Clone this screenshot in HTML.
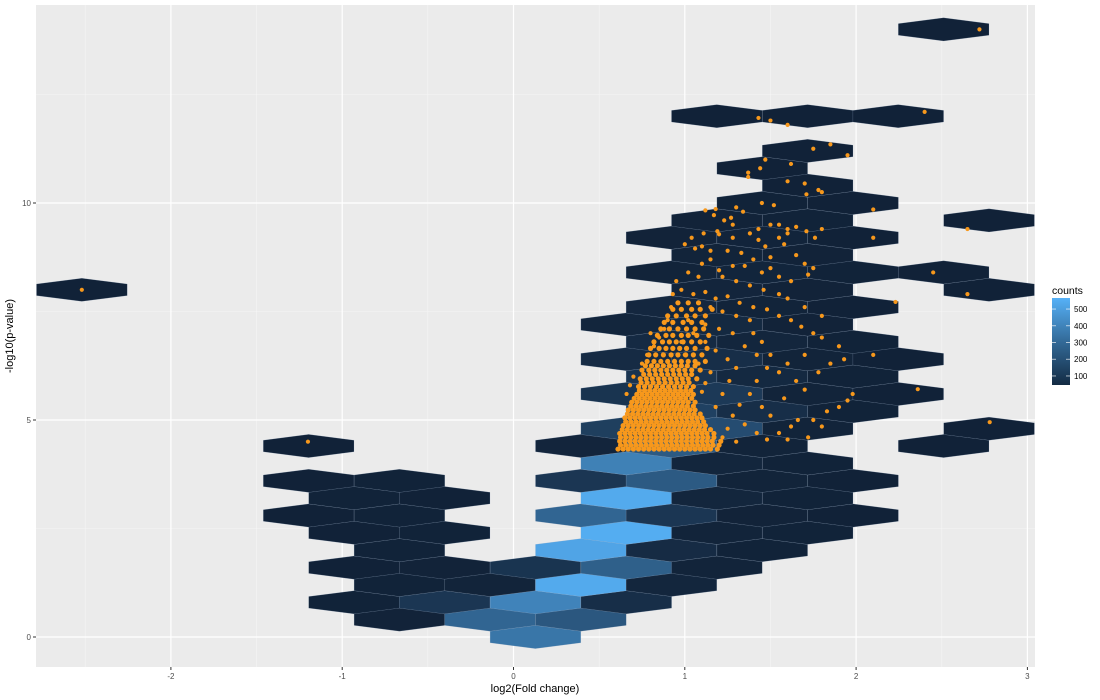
<!DOCTYPE html>
<html><head><meta charset="utf-8"><style>
html,body{margin:0;padding:0;background:#fff;}
svg{display:block;font-family:"Liberation Sans",Arial,sans-serif;}
</style></head><body>
<svg id="chart" width="1100" height="700" viewBox="0 0 1100 700" xmlns="http://www.w3.org/2000/svg">
<rect x="0" y="0" width="1100" height="700" fill="#ffffff"/>
<rect x="36" y="5" width="999" height="662" fill="#EBEBEB"/>
<g id="grid"></g>
<g id="hexes"></g>
<g id="points"></g>
<g id="axes"></g>
<text x="535" y="692" font-size="11" text-anchor="middle" fill="#000">log2(Fold change)</text>
<text transform="translate(13,336) rotate(-90)" font-size="11" text-anchor="middle" fill="#000">-log10(p-value)</text>
<g>
  <text x="1052" y="294" font-size="10.5" fill="#000">counts</text>
  <defs><linearGradient id="cbar" x1="0" y1="0" x2="0" y2="1">
    <stop offset="0" stop-color="#56B1F7"/><stop offset="0.5" stop-color="#336A98"/><stop offset="1" stop-color="#132B43"/>
  </linearGradient></defs>
  <rect x="1052" y="298" width="18" height="87" fill="url(#cbar)"/>
  <g id="legend-ticks"></g>
</g>
</svg>
<script>
// ---- data ----
const xTicks = [-2, -1, 0, 1, 2, 3];
const yTicks = [0, 5, 10];
const xMinor = [-2.5, -1.5, -0.5, 0.5, 1.5, 2.5];
const yMinor = [2.5, 7.5, 12.5];
const legendValues = [100, 200, 300, 400, 500];
const countMin = 46, countMax = 566;

const hexX = [
0.128,
-0.666,-0.137,0.393,
-0.931,-0.402,0.128,0.658,
-0.666,-0.137,0.393,0.922,
-0.931,-0.402,0.128,0.658,1.187,
-0.666,0.393,0.922,1.452,
-0.931,-0.402,0.658,1.187,1.717,
-1.196,-0.666,0.393,0.922,1.452,1.982,
-0.931,-0.402,0.658,1.187,1.717,
-1.196,-0.666,0.393,0.922,1.452,1.982,
0.658,1.187,1.717,
-1.196,0.393,0.922,1.452,2.511,
0.658,1.187,1.717,2.776,
0.922,1.452,1.982,
0.658,1.187,1.717,2.246,
0.922,1.452,1.982,
0.658,1.187,1.717,2.246,
0.922,1.452,1.982,
0.658,1.187,1.717,
0.922,1.452,1.982,
-2.52,1.187,1.717,2.776,
0.922,1.452,1.982,2.511,
1.187,1.717,
0.922,1.452,1.982,
1.187,1.717,2.776,
1.452,1.982,
1.717,
1.452,
1.717,
1.187,1.717,2.246,
2.511];
const hexY = [
0,
0.4,0.4,0.4,
0.8,0.8,0.8,0.8,
1.2,1.2,1.2,1.2,
1.6,1.6,1.6,1.6,1.6,
2.0,2.0,2.0,2.0,
2.4,2.4,2.4,2.4,2.4,
2.8,2.8,2.8,2.8,2.8,2.8,
3.2,3.2,3.2,3.2,3.2,
3.6,3.6,3.6,3.6,3.6,3.6,
4.0,4.0,4.0,
4.4,4.4,4.4,4.4,4.4,
4.8,4.8,4.8,4.8,
5.2,5.2,5.2,
5.6,5.6,5.6,5.6,
6.0,6.0,6.0,
6.4,6.4,6.4,6.4,
6.8,6.8,6.8,
7.2,7.2,7.2,
7.6,7.6,7.6,
8.0,8.0,8.0,8.0,
8.4,8.4,8.4,8.4,
8.8,8.8,
9.2,9.2,9.2,
9.6,9.6,9.6,
10.0,10.0,
10.4,
10.8,
11.2,
12.0,12.0,12.0,
14.0];
const hexCounts = [
350,
50,290,240,
48,120,400,90,
48,52,540,60,
46,50,110,270,52,
48,520,80,48,
46,48,550,52,48,
46,48,290,120,50,46,
48,46,540,60,48,
46,48,120,250,52,46,
390,60,48,
46,58,250,52,46,
150,200,52,46,
160,90,48,
110,130,52,46,
110,70,48,
80,90,52,46,
75,60,48,
60,70,50,
65,52,46,
46,58,50,46,
52,56,48,46,
52,50,
50,54,46,
50,48,46,
48,46,
46,
46,
46,
46,46,46,
46];

// dense core rows of points (y value, x values)
const blobY = [4.33,4.42,4.51,4.60,4.69,4.78,4.87,4.96,5.05,5.14,5.23,5.32,5.41,5.50,5.59,5.68,5.77,5.86,5.95,6.05,6.15,6.25,6.35,6.50,6.65,6.80,6.95,7.10,7.25,7.40,7.55,7.70];
const blobX = [
[0.61,0.64,0.67,0.70,0.73,0.76,0.79,0.82,0.85,0.88,0.91,0.94,0.97,1.00,1.03,1.06,1.09,1.12,1.15,1.19],
[0.625,0.655,0.685,0.715,0.745,0.775,0.805,0.835,0.865,0.895,0.925,0.955,0.985,1.015,1.045,1.075,1.105,1.135,1.165,1.20],
[0.62,0.65,0.68,0.71,0.74,0.77,0.80,0.83,0.86,0.89,0.92,0.95,0.98,1.01,1.04,1.07,1.10,1.13,1.16,1.21],
[0.625,0.655,0.685,0.715,0.745,0.775,0.805,0.835,0.865,0.895,0.925,0.955,0.985,1.015,1.045,1.075,1.105,1.135,1.17],
[0.62,0.65,0.68,0.71,0.74,0.77,0.80,0.83,0.86,0.89,0.92,0.95,0.98,1.01,1.04,1.07,1.10,1.13,1.17],
[0.635,0.665,0.695,0.725,0.755,0.785,0.815,0.845,0.875,0.905,0.935,0.965,0.995,1.025,1.055,1.085,1.115,1.15],
[0.64,0.67,0.70,0.73,0.76,0.79,0.82,0.85,0.88,0.91,0.94,0.97,1.00,1.03,1.06,1.09,1.12],
[0.655,0.685,0.715,0.745,0.775,0.805,0.835,0.865,0.895,0.925,0.955,0.985,1.015,1.045,1.075,1.11],
[0.65,0.68,0.71,0.74,0.77,0.80,0.83,0.86,0.89,0.92,0.95,0.98,1.01,1.04,1.07,1.10],
[0.665,0.695,0.725,0.755,0.785,0.815,0.845,0.875,0.905,0.935,0.965,0.995,1.025,1.055,1.09],
[0.67,0.70,0.73,0.76,0.79,0.82,0.85,0.88,0.91,0.94,0.97,1.00,1.03,1.06],
[0.685,0.715,0.745,0.775,0.805,0.835,0.865,0.895,0.925,0.955,0.985,1.015,1.05],
[0.69,0.72,0.75,0.78,0.81,0.84,0.87,0.90,0.93,0.96,0.99,1.02,1.06],
[0.705,0.735,0.765,0.795,0.825,0.855,0.885,0.915,0.945,0.975,1.005,1.04],
[0.72,0.75,0.78,0.81,0.84,0.87,0.90,0.93,0.96,0.99,1.02,1.05],
[0.735,0.765,0.795,0.825,0.855,0.885,0.915,0.945,0.975,1.005,1.035],
[0.73,0.765,0.80,0.835,0.87,0.905,0.94,0.975,1.01,1.05],
[0.745,0.78,0.815,0.85,0.885,0.92,0.955,0.99,1.025],
[0.74,0.775,0.81,0.845,0.88,0.915,0.95,0.985,1.02,1.07],
[0.76,0.795,0.83,0.865,0.90,0.935,0.97,1.005,1.04],
[0.75,0.79,0.825,0.86,0.895,0.93,0.965,1.00,1.04,1.09],
[0.77,0.805,0.84,0.875,0.91,0.945,0.98,1.015,1.06],
[0.78,0.82,0.86,0.90,0.94,0.98,1.02,1.06,1.12],
[0.79,0.83,0.875,0.92,0.96,1.005,1.05,1.10],
[0.80,0.85,0.89,0.93,0.97,1.01,1.06,1.13],
[0.82,0.87,0.91,0.95,0.99,1.04,1.09],
[0.84,0.89,0.93,0.98,1.02,1.07,1.14],
[0.86,0.91,0.96,1.01,1.06,1.11],
[0.88,0.93,0.99,1.04,1.10],
[0.90,0.95,1.01,1.06,1.12],
[0.93,0.98,1.04,1.09,1.16],
[0.96,1.02,1.08]];

// scattered points
const ptX = [2.72,1.43,1.5,1.6,2.4,1.75,1.85,1.95,1.47,1.62,1.44,1.37,1.37,1.6,1.7,1.71,1.78,1.8,2.1,1.45,1.52,1.3,1.34,1.12,1.18,1.17,1.27,1.23,1.28,1.43,1.5,1.55,1.6,1.65,1.8,1.76,1.71,2.1,2.65,
1.04,1.11,1.19,1.2,1.28,1.38,1.43,1.47,1.55,1.6,1.58,1.65,1.7,1.72,1.75,1.0,1.06,1.1,1.15,1.25,1.33,1.4,1.5,1.28,1.35,1.45,1.5,1.55,1.62,1.1,1.15,1.2,1.02,1.08,1.22,1.3,1.38,1.46,1.55,1.6,1.7,1.8,2.23,2.45,2.65,
0.95,0.98,1.05,1.12,1.18,1.25,1.32,1.4,1.48,1.55,1.62,1.68,1.75,1.8,1.9,1.93,2.1,1.85,1.78,2.36,1.98,1.95,1.9,1.83,1.75,1.8,1.72,1.6,1.55,1.62,1.66,1.5,1.45,1.58,1.7,1.65,1.55,1.6,1.7,1.5,1.45,1.4,1.38,1.3,1.22,1.15,1.08,0.92,0.9,0.88,0.85,0.82,0.78,0.75,0.8,0.93,1.02,1.12,1.2,1.28,1.35,1.42,1.48,1.42,1.38,1.32,1.28,1.35,1.42,1.48,1.3,1.22,1.25,1.18,1.22,1.26,1.3,1.25,1.18,1.12,1.05,0.98,1.0,1.08,1.15,1.12,1.1,0.7,0.68,0.66,2.78,-1.2,-2.52];
const ptY = [14.0,11.96,11.9,11.8,12.1,11.25,11.35,11.1,11.0,10.9,10.8,10.7,10.6,10.5,10.45,10.2,10.3,10.25,9.85,10.0,9.95,9.9,9.8,9.83,9.86,9.72,9.66,9.6,9.5,9.4,9.5,9.5,9.4,9.45,9.4,9.2,9.35,9.2,9.4,
9.2,9.3,9.35,9.28,9.2,9.3,9.15,9.0,9.2,9.3,9.05,8.8,8.6,8.35,8.5,9.05,8.95,9.0,8.9,8.9,8.85,8.7,8.75,8.55,8.55,8.4,8.5,8.3,8.2,8.6,8.7,8.45,8.4,8.3,8.3,8.2,8.1,8.0,7.9,7.8,7.6,7.4,7.72,8.4,7.9,
8.2,8.0,7.9,7.95,7.8,7.85,7.7,7.6,7.55,7.4,7.3,7.15,7.0,6.9,6.7,6.4,6.5,6.3,6.1,5.71,5.6,5.45,5.3,5.2,5.0,4.85,4.6,4.55,4.7,4.85,5.0,5.1,5.3,5.5,5.7,5.9,6.1,6.3,6.5,6.5,6.8,7.0,7.3,7.4,7.5,7.6,7.7,7.6,7.3,7.1,6.9,6.7,6.5,6.3,7.0,7.9,7.3,7.2,7.1,7.0,6.7,6.5,6.2,5.9,5.6,5.35,5.1,4.9,4.7,4.55,4.5,4.6,4.8,5.3,5.6,5.9,6.2,6.4,6.6,6.8,7.0,6.8,6.5,6.3,6.1,5.85,5.65,6.0,5.8,5.6,4.95,4.5,8.0];

// ---- scales ----
const PX0 = 513.5, PXU = 171.3, PY0 = 637, PYU = 43.4;
function sx(v){ return PX0 + PXU * v; }
function sy(v){ return PY0 - PYU * v; }
const HW = 0.26475; // hex half width (data)
const HR = 0.2673;  // hex vertical radius (data)
const NS = 'http://www.w3.org/2000/svg';
function mk(tag, attrs, parent){
  const e = document.createElementNS(NS, tag);
  for (const k in attrs) e.setAttribute(k, attrs[k]);
  parent.appendChild(e); return e;
}
function hexColor(c){
  let t = (c - countMin) / (countMax - countMin); t = Math.max(0, Math.min(1, t));
  const lo = [0x11,0x22,0x38], hi = [0x56,0xB1,0xF7];
  const r = lo.map((v,i)=>Math.round(v + (hi[i]-v)*t));
  return 'rgb(' + r.join(',') + ')';
}

// grid
const grid = document.getElementById('grid');
xMinor.forEach(v=>{
  const l = mk('line',{x1:sx(v),x2:sx(v),y1:5,y2:667,stroke:'#F5F5F5','stroke-width':0.6},grid);
  
  
});
yMinor.forEach(v=>{
  const l = mk('line',{x1:36,x2:1035,y1:sy(v),y2:sy(v),stroke:'#F5F5F5','stroke-width':0.6},grid);
  
  
});
xTicks.forEach(v=>{
  const l = mk('line',{x1:sx(v),x2:sx(v),y1:5,y2:667,stroke:'#FFFFFF','stroke-width':1.2},grid);
  
  
});
yTicks.forEach(v=>{
  const l = mk('line',{x1:36,x2:1035,y1:sy(v),y2:sy(v),stroke:'#FFFFFF','stroke-width':1.2},grid);
  
  
});

// hexes
const hg = document.getElementById('hexes');
for (let i = 0; i !== hexX.length; i++){
  const cx = hexX[i], cy = hexY[i];
  const pts = [[cx,cy+HR],[cx+HW,cy+HR/2],[cx+HW,cy-HR/2],[cx,cy-HR],[cx-HW,cy-HR/2],[cx-HW,cy+HR/2]]
    .map(p=>sx(p[0]).toFixed(1)+','+sy(p[1]).toFixed(1)).join(' ');
  const h = mk('polygon',{points:pts,fill:hexColor(hexCounts[i]),stroke:'rgba(150,170,195,0.35)','stroke-width':0.5},hg);
  
  
}

// points
const pg = document.getElementById('points');
const ORANGE = '#F7981C';
blobY.forEach((y,ri)=>{
  blobX[ri].forEach(x=>{
    const c = mk('circle',{cx:sx(x),cy:sy(y),r:2.6,fill:ORANGE},pg);
    
    
  });
});
for (let i = 0; i !== ptX.length; i++){
  const c = mk('circle',{cx:sx(ptX[i]),cy:sy(ptY[i]),r:2.1,fill:ORANGE},pg);
  
  
}

// axes ticks & labels
const ag = document.getElementById('axes');
xTicks.forEach(v=>{
  const t = mk('line',{x1:sx(v),x2:sx(v),y1:667,y2:670,stroke:'#333','stroke-width':1},ag);
  
  
  const lb = mk('text',{x:sx(v),y:679,'font-size':8,'text-anchor':'middle',fill:'#4D4D4D'},ag);
  lb.textContent = String(v);
  
  
});
yTicks.forEach(v=>{
  const t = mk('line',{x1:33,x2:36,y1:sy(v),y2:sy(v),stroke:'#333','stroke-width':1},ag);
  
  
  const lb = mk('text',{x:31,y:sy(v)+3,'font-size':8,'text-anchor':'end',fill:'#4D4D4D'},ag);
  lb.textContent = String(v);
  
  
});

// legend ticks
const lg = document.getElementById('legend-ticks');
legendValues.forEach(v=>{
  const y = 385 - (v - countMin) / (countMax - countMin) * 87;
  const a = mk('line',{x1:1052,x2:1056,y1:y,y2:y,stroke:'#fff','stroke-width':0.8,opacity:0.8},lg);
  
  
  const b = mk('line',{x1:1066,x2:1070,y1:y,y2:y,stroke:'#fff','stroke-width':0.8,opacity:0.8},lg);
  
  
  const t = mk('text',{x:1074,y:y+3,'font-size':8,fill:'#000'},lg);
  t.textContent = String(v);
  
  
});
</script>
</body></html>
